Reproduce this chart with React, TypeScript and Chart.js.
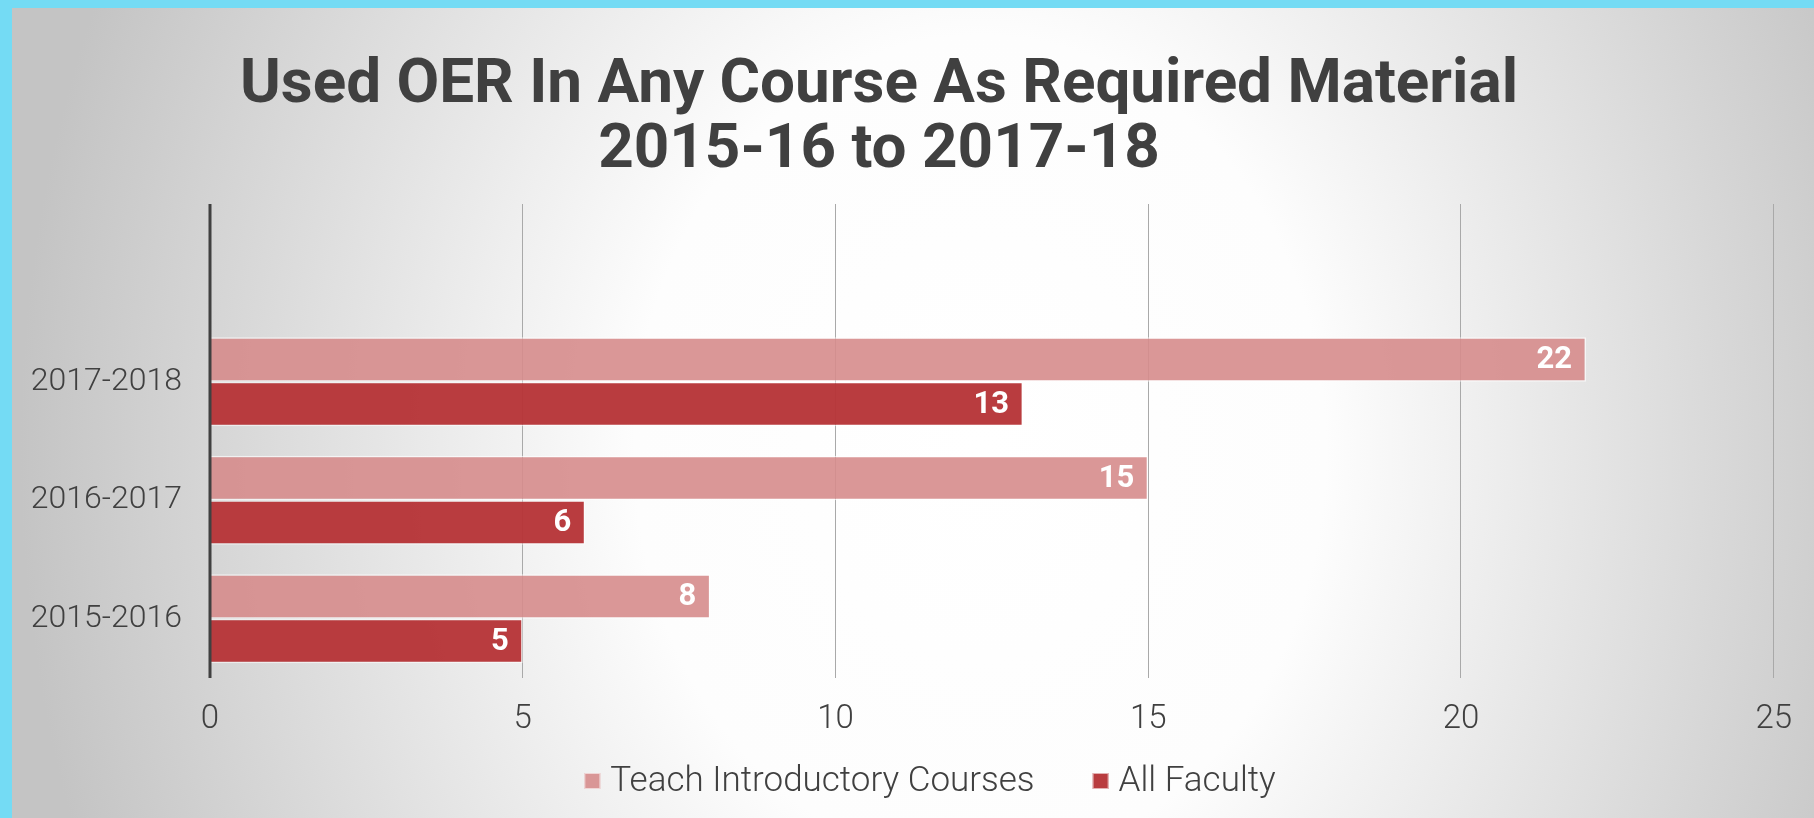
import React, { useEffect, useRef } from "react";
import { Chart, registerables } from "chart.js";

Chart.register(...registerables);

const titleLines = ["Used OER In Any Course As Required Material", "2015-16 to 2017-18"];
const categories = ["", "2017-2018", "2016-2017", "2015-2016"];
const introCourses = [null, 22, 15, 8];
const allFaculty = [null, 13, 6, 5];
const seriesNames = ["Teach Introductory Courses", "All Faculty"];
const xMin = 0;
const xMax = 25;
const xStep = 5;

const W = 1814;
const H = 818;
const FONT = "Roboto, 'Open Sans', sans-serif";
const TEXT = "#404040";
const LIGHT = "rgba(214,140,140,0.9)";
const DARK = "rgba(182,52,55,0.96)";

const backgroundPlugin = {
  id: "bgPlugin",
  beforeDraw(chart: any) {
    const ctx = chart.ctx;
    ctx.save();
    ctx.fillStyle = "#c4c4c4";
    ctx.fillRect(0, 0, W, H);
    ctx.translate(980, 450);
    ctx.scale(1, 1.2);
    const g = ctx.createRadialGradient(0, 0, 0, 0, 0, 960);
    g.addColorStop(0, "#ffffff");
    g.addColorStop(0.36, "#fdfdfd");
    g.addColorStop(1, "#c4c4c4");
    ctx.fillStyle = g;
    ctx.fillRect(-1200, -800, 2600, 1600);
    ctx.restore();
    ctx.save();
    ctx.fillStyle = "#74dbf4";
    ctx.fillRect(0, 0, W, 8);
    ctx.fillRect(0, 0, 12, H);
    ctx.restore();
  },
};

const titlePlugin = {
  id: "titleText",
  afterDraw(chart: any) {
    const ctx = chart.ctx;
    ctx.save();
    ctx.fillStyle = TEXT;
    ctx.font = `bold 62px ${FONT}`;
    ctx.textAlign = "center";
    ctx.textBaseline = "alphabetic";
    ctx.fillText(titleLines[0], 879, 102);
    ctx.fillText(titleLines[1], 879, 167);
    ctx.restore();
  },
};

const legendPlugin = {
  id: "customLegend",
  afterDraw(chart: any) {
    const ctx = chart.ctx;
    ctx.save();
    ctx.font = `300 35px ${FONT}`;
    ctx.textBaseline = "middle";
    ctx.textAlign = "left";
    const box = 16;
    const gap = 10;
    const itemGap = 58;
    const colors = [LIGHT, DARK];
    const widths = seriesNames.map((s) => box + gap + ctx.measureText(s).width);
    const total = widths.reduce((a, b) => a + b, 0) + itemGap * (widths.length - 1);
    let x = 930 - total / 2;
    const cy = 781;
    seriesNames.forEach((s, i) => {
      ctx.fillStyle = colors[i];
      ctx.fillRect(x, cy - box / 2, box, box);
      ctx.strokeStyle = "rgba(255,255,255,0.6)";
      ctx.lineWidth = 1;
      ctx.strokeRect(x + 0.5, cy - box / 2 + 0.5, box - 1, box - 1);
      ctx.fillStyle = TEXT;
      ctx.fillText(s, x + box + gap, cy + 1);
      x += widths[i] + itemGap;
    });
    ctx.restore();
  },
};

const overlayPlugin = {
  id: "valueLabels",
  afterDatasetsDraw(chart: any) {
    const ctx = chart.ctx;
    const area = chart.chartArea;
    const x0 = chart.scales.x.getPixelForValue(0);
    ctx.save();
    ctx.strokeStyle = TEXT;
    ctx.lineWidth = 3;
    ctx.beginPath();
    ctx.moveTo(x0, area.top);
    ctx.lineTo(x0, area.bottom);
    ctx.stroke();
    ctx.fillStyle = "#ffffff";
    ctx.font = `bold 31px ${FONT}`;
    ctx.textAlign = "right";
    ctx.textBaseline = "middle";
    chart.data.datasets.forEach((ds: any, di: number) => {
      const meta = chart.getDatasetMeta(di);
      meta.data.forEach((el: any, i: number) => {
        const v = ds.data[i];
        if (v === null || v === undefined) return;
        ctx.fillText(String(v), el.x - 14, el.y + 1);
      });
    });
    ctx.restore();
  },
};

export default function App() {
  const ref = useRef<HTMLCanvasElement | null>(null);

  useEffect(() => {
    document.body.style.margin = "0";
    const canvas = ref.current;
    if (!canvas) return;
    const chart = new Chart(canvas, {
      type: "bar",
      data: {
        labels: categories,
        datasets: [
          {
            label: seriesNames[0],
            data: introCourses,
            backgroundColor: LIGHT,
            borderColor: "rgba(255,255,255,0.65)",
            borderWidth: 1.5,
          },
          {
            label: seriesNames[1],
            data: allFaculty,
            backgroundColor: DARK,
            borderColor: "rgba(255,255,255,0.55)",
            borderWidth: 1.5,
          },
        ],
      },
      options: {
        indexAxis: "y",
        animation: false,
        responsive: false,
        maintainAspectRatio: false,
        devicePixelRatio: 1,
        layout: { padding: { top: 204, left: 0, right: 32, bottom: 0 } },
        datasets: {
          bar: { categoryPercentage: 0.75, barPercentage: 1.0 },
        },
        scales: {
          x: {
            type: "linear",
            min: xMin,
            max: xMax,
            ticks: {
              stepSize: xStep,
              color: TEXT,
              font: { family: FONT, size: 33, weight: "300" },
              padding: 22,
            },
            grid: { color: "#a9a9a9", lineWidth: 1, drawTicks: false },
            border: { display: false },
            afterFit: (s: any) => {
              s.height = 140;
            },
          },
          y: {
            type: "category",
            grid: { display: false, drawTicks: false },
            border: { display: false },
            ticks: {
              color: TEXT,
              font: { family: FONT, size: 32, weight: "300" },
              padding: 28,
            },
            afterFit: (s: any) => {
              s.width = 210;
            },
          },
        },
        plugins: {
          title: { display: false },
          tooltip: { enabled: false },
          legend: { display: false },
        },
      },
      plugins: [backgroundPlugin, titlePlugin, legendPlugin, overlayPlugin],
    } as any);
    return () => chart.destroy();
  }, []);

  return (
    <div style={{ width: W, height: H }}>
      <canvas ref={ref} width={W} height={H} style={{ display: "block", width: W, height: H }} />
    </div>
  );
}
